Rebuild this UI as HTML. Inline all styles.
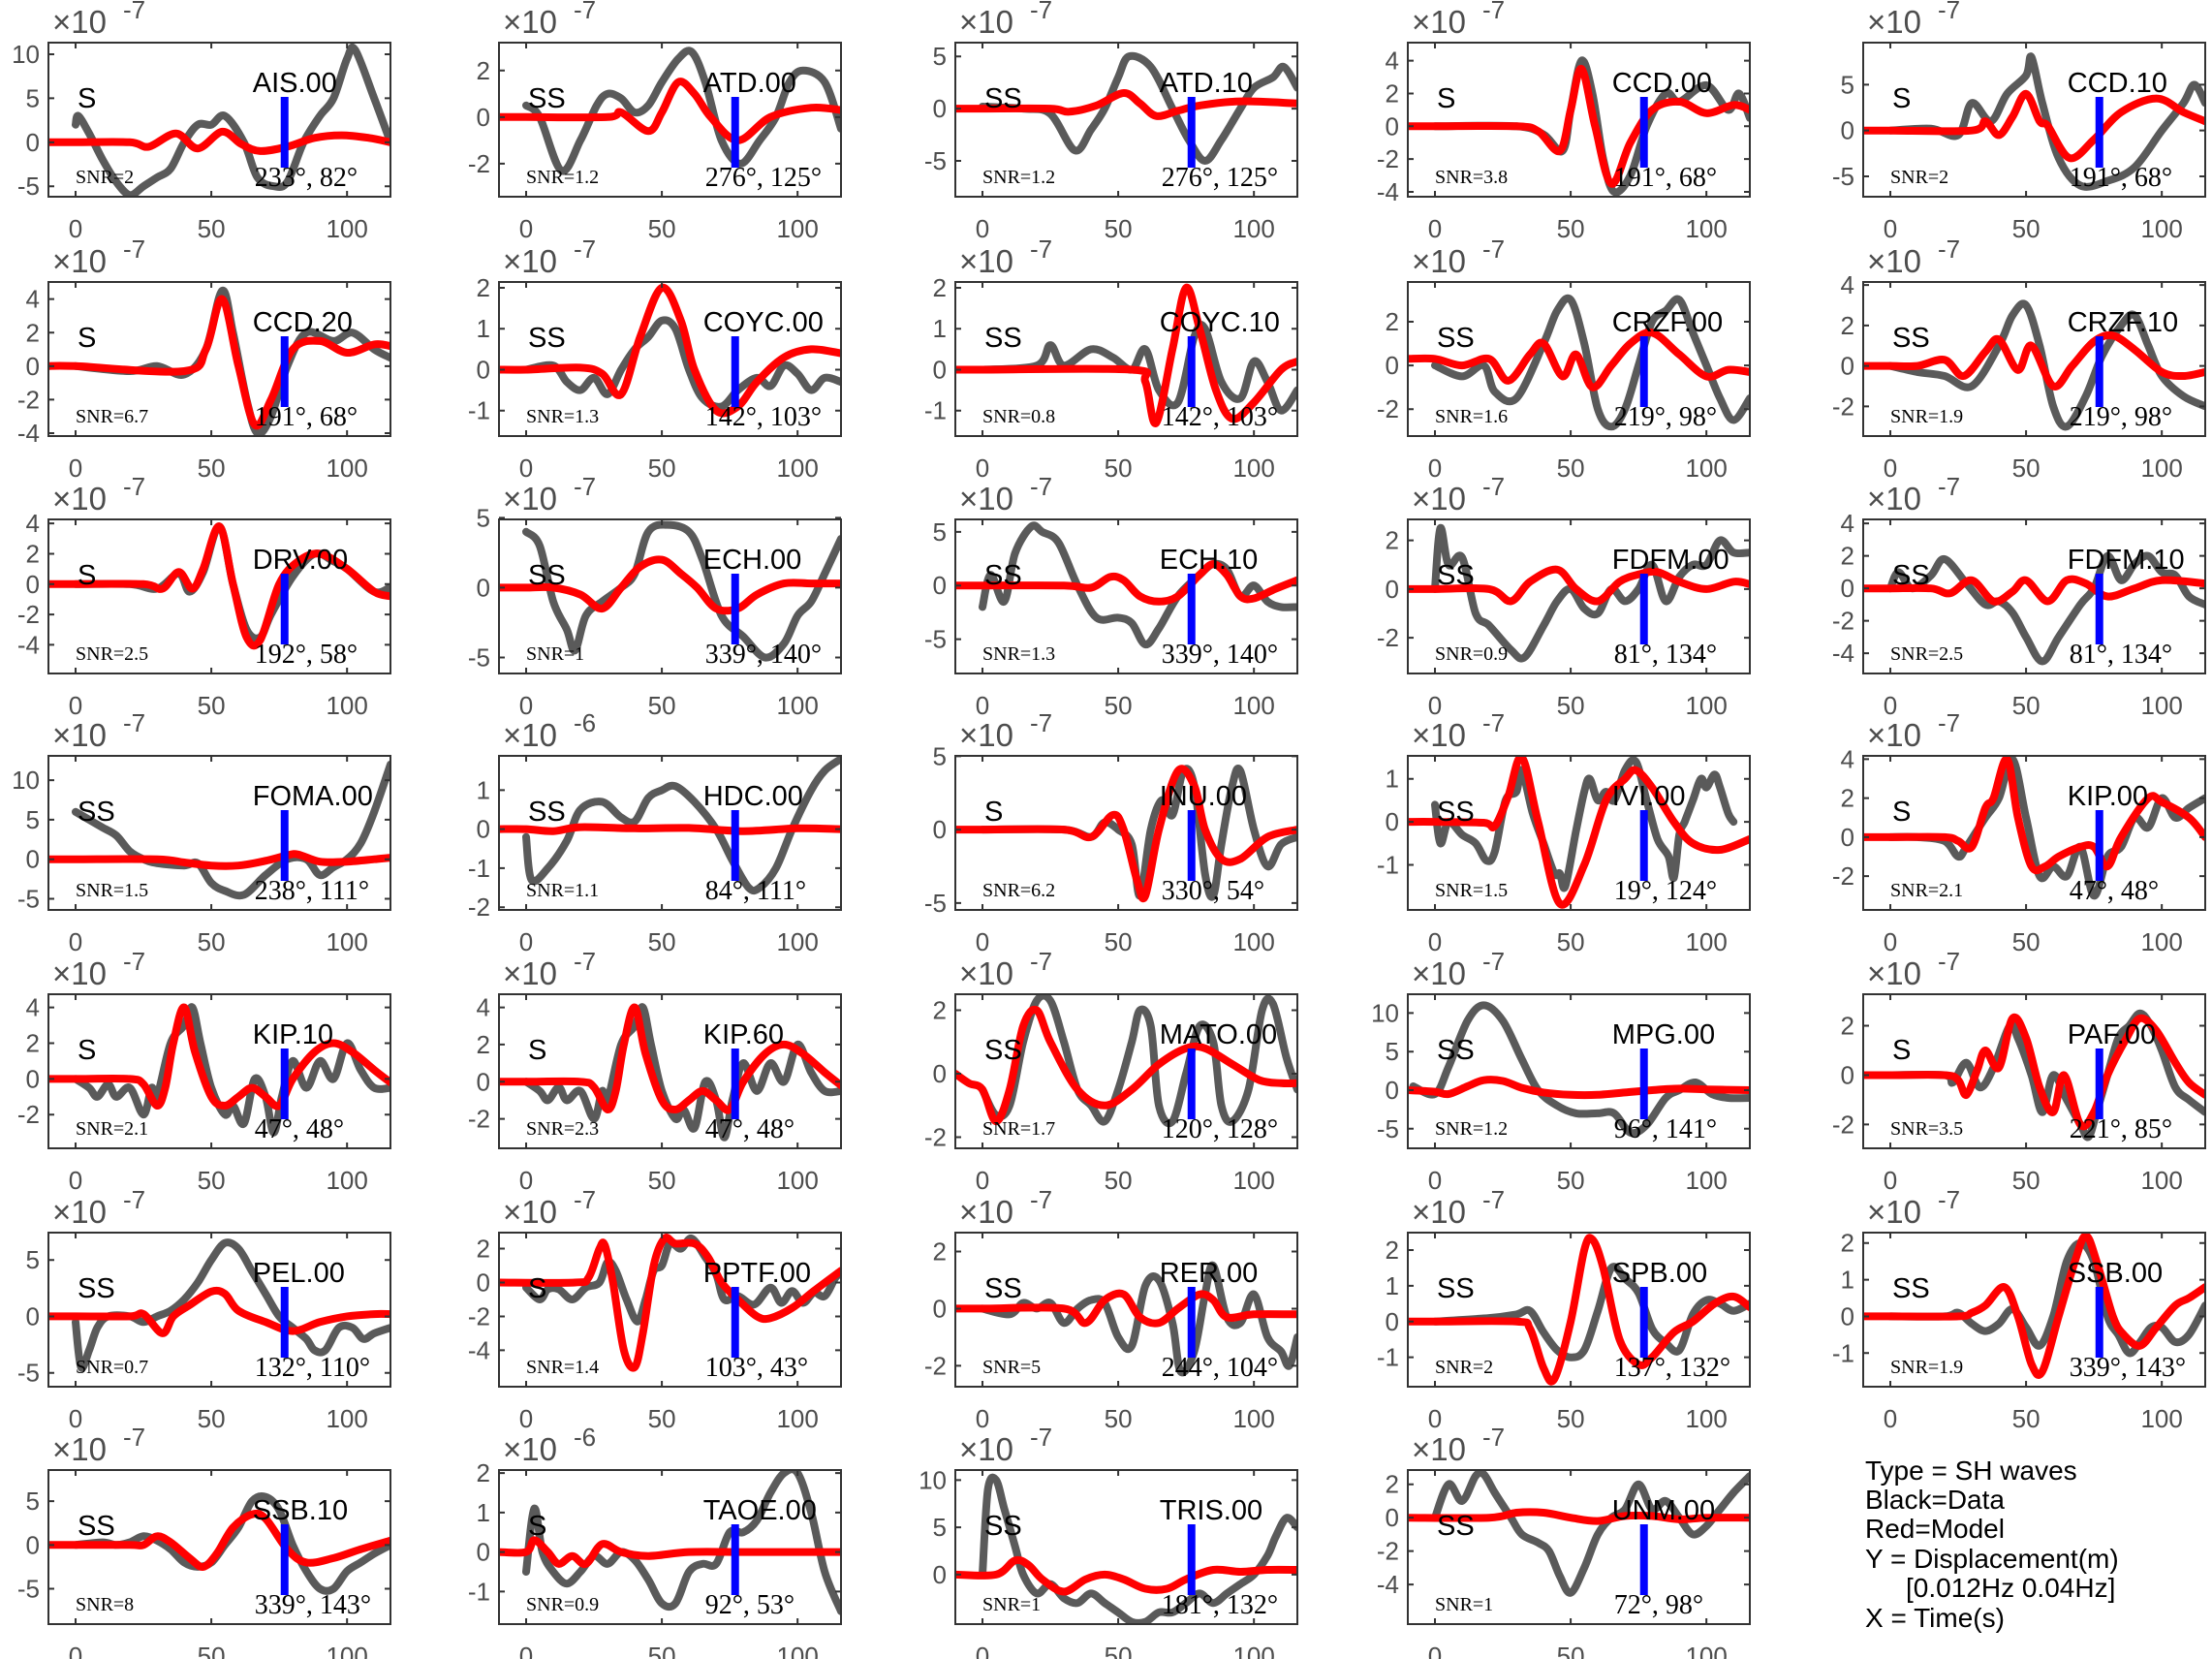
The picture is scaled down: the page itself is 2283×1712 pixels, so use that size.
<!DOCTYPE html>
<html><head><meta charset="utf-8">
<style>
html,body{margin:0;padding:0;background:#fff;}
svg{display:block;}
.tk{font-family:"Liberation Sans",sans-serif;font-size:26px;fill:#4d4d4d;}
.nm{font-family:"Liberation Sans",sans-serif;font-size:29px;fill:#000;}
.sr{font-family:"Liberation Serif",serif;fill:#000;}
.lg{font-family:"Liberation Sans",sans-serif;font-size:28px;fill:#000;}
</style></head>
<body>
<svg id="s" width="2283" height="1712" viewBox="0 0 2283 1712" xmlns="http://www.w3.org/2000/svg">
<text class="lg" x="1925" y="1527">Type = SH waves</text>
<text class="lg" x="1925" y="1557">Black=Data</text>
<text class="lg" x="1925" y="1587">Red=Model</text>
<text class="lg" x="1925" y="1618">Y = Displacement(m)</text>
<text class="lg" x="1967" y="1648">[0.012Hz 0.04Hz]</text>
<text class="lg" x="1925" y="1679">X = Time(s)</text>
</svg>
<script>
const KIPg=[0,0,5,-0.5,8,-1,12,-0.3,15,-1,20,-0.5,25,-2,28,-0.5,30,-1,35,2,40,3,43,4,46,2,50,-0.5,55,-2,58,-1.5,62,-2.5,66,0,70,-1,73,-3,76,-1,80,1,85,-0.5,90,1,95,0,100,2,105,0.5,110,-0.5,116,-0.5];
const KIPr=[0,0,20,0,25,-0.3,30,-1.5,33,-0.5,36,2,40,4,44,1.5,50,-1,55,-1.5,60,-1,65,-0.5,70,-1,75,-1.5,80,0,88,1.5,95,2,102,1.5,110,0.5,116,-0.2];
const P=[
{n:'AIS.00',p:'S',s:'2',a:'233°, 82°',e:7,tk:[[10,38.5],[5,70],[0,101],[-5,132]],
g:[0,2,1,3,5,1,10,-2,15,-4.5,20,-6,25,-5,30,-4,35,-3,40,0,45,2,50,2,55,3,62,0,67,-4,73,-5,78,-4.5,84,0,90,3,95,5,100,9.5,103,10.5,110,5,116,0],
r:[0,0,20,0,27,-0.5,37,1,45,-0.7,54,1.2,61,-0.2,68,-1,78,-0.5,88,0.5,98,0.8,108,0.5,116,0]},
{n:'ATD.00',p:'SS',s:'1.2',a:'276°, 125°',e:7,tk:[[2,50],[0,83],[-2,116]],
g:[0,0.5,5,0,13,-2.3,20,-1,26,0.5,30,1,35,0.8,40,0.2,45,0.5,50,1.5,56,2.5,61,2.8,66,1.5,72,-1,79,-2,86,-1,92,0,97,1.5,102,2,110,1.5,116,-0.5],
r:[0,0,30,0,35,0.2,45,-0.6,50,0.2,56,1.5,62,1,68,0,78,-1,90,0,105,0.4,116,0.3]},
{n:'ATD.10',p:'SS',s:'1.2',a:'276°, 125°',e:7,tk:[[5,40],[0,78],[-5,114]],
g:[0,0.2,15,0,25,-0.5,34,-4,40,-2,45,0,50,3,54,5,62,4,70,0,76,-3,82,-5,88,-3,95,0,100,2,107,3,111,4,116,2],
r:[0,0,25,0,32,-0.3,42,0.3,52,1.5,58,0.5,64,-0.7,72,-0.2,80,0.3,95,0.7,116,0.5]},
{n:'CCD.00',p:'S',s:'3.8',a:'191°, 68°',e:7,tk:[[4,43],[2,65],[0,89],[-2,113],[-4,136]],
g:[0,0,30,0,40,-0.5,47,-1.5,50,1,54,4,58,2,62,-2,66,-4,72,-3,78,0,85,2,90,1.5,100,2.5,108,1,112,2,116,0.5],
r:[0,0,30,0,38,-0.3,46,-1.5,50,1,54,3.5,59,0,65,-3.5,72,-1,80,1,90,1.5,100,0.8,110,1.3,116,1]},
{n:'CCD.10',p:'S',s:'2',a:'191°, 68°',e:7,tk:[[5,60],[0,93],[-5,125]],
g:[0,0,15,0.2,25,-0.5,30,3,37,1,43,4,50,6,52,8,56,3,62,-3,70,-6,80,-5.5,90,-4,100,0,108,3,112,5,116,3],
r:[0,0,30,0,35,1,40,-0.5,45,1.5,50,4,55,1,58,0.5,66,-3,75,-1,85,2,98,3.5,108,2,116,1]},

{n:'CCD.20',p:'S',s:'6.7',a:'191°, 68°',e:7,tk:[[4,212],[2,236],[0,260],[-2,284],[-4,307]],
g:[0,0,20,-0.3,30,0,40,-0.5,48,1,54,4.5,58,2,63,-2,67,-4,72,-3,78,0,85,2,95,1.5,102,2,110,1,116,0.5],
r:[0,0,40,-0.3,48,1,54,4,60,0,66,-3.5,72,-2,80,1,90,1.5,100,0.8,110,1.3,116,1.2]},
{n:'COYC.00',p:'SS',s:'1.3',a:'142°, 103°',e:7,tk:[[2,204],[1,233],[0,262],[-1,291]],
g:[0,0,10,0.1,15,-0.3,20,-0.5,25,-0.2,30,-0.6,35,0,40,0.5,45,0.8,50,1.2,55,1,60,0,65,-0.7,72,-0.9,78,-0.5,85,-0.2,90,-0.4,95,0.1,100,-0.1,105,-0.5,110,-0.2,116,-0.3],
r:[0,0,20,0.05,28,-0.1,35,-0.6,42,0.8,50,2,57,1.2,62,0,70,-1,78,-0.9,85,-0.3,95,0.3,105,0.5,116,0.4]},
{n:'COYC.10',p:'SS',s:'0.8',a:'142°, 103°',e:7,tk:[[2,204],[1,233],[0,262],[-1,291]],
g:[0,0,20,0.1,25,0.6,30,0.1,40,0.5,48,0.3,55,0,60,0.5,65,-0.5,72,-0.8,78,0.8,82,1,88,-0.3,95,-0.7,100,0.2,105,-0.3,110,-1,116,-0.5],
r:[0,0,55,0,60,-0.3,64,-1.3,70,0.5,75,2,80,1,86,-0.5,92,-1.2,100,-0.8,110,0,116,0.2]},
{n:'CRZF.00',p:'SS',s:'1.6',a:'219°, 98°',e:7,tk:[[2,228],[0,259],[-2,290]],
g:[0,0,10,-0.5,18,0,22,-1.2,30,-1.5,40,1,45,2.5,50,3,55,1,60,-2,65,-2.8,70,-2,75,0,80,2,85,2.5,90,3,95,1.5,100,0,105,-1.5,110,-2.5,116,-1.5],
r:[0,0.3,10,0,20,0.3,27,-0.7,35,0.5,40,1,47,-0.5,52,0.5,58,-1,65,0,72,1,80,1.5,90,0.5,100,-0.5,108,-0.2,116,-0.3]},
{n:'CRZF.10',p:'SS',s:'1.9',a:'219°, 98°',e:7,tk:[[4,202],[2,230],[0,259],[-2,288]],
g:[0,0,10,-0.3,20,-0.5,30,-1,40,1,45,2.5,50,3,55,1,60,-2,65,-3,72,-1.5,78,0.5,85,2,90,2.5,95,1,100,-0.5,108,-1.5,116,-2],
r:[0,0,10,0,20,0.3,27,-0.5,35,0.7,40,1.3,47,-0.2,52,1,60,-1,67,0,75,1.2,82,1.5,90,0.8,100,-0.3,108,-0.5,116,-0.3]},

{n:'DRV.00',p:'S',s:'2.5',a:'192°, 58°',e:7,tk:[[4,371],[2,392],[0,414],[-2,436],[-4,457]],
g:[0,0,20,0,30,-0.3,38,0.7,42,-0.5,47,0.8,53,3.8,58,0,63,-3,68,-3.5,72,-2,80,0.5,88,2,95,1.5,100,1,110,-0.5,116,-0.2],
r:[0,0,25,0,32,-0.3,38,0.8,43,-0.3,47,1,53,3.8,58,0,63,-3.5,68,-3.7,75,0,82,1.5,90,2,100,1,110,-0.5,116,-0.8]},
{n:'ECH.00',p:'SS',s:'1',a:'339°, 140°',e:7,tk:[[5,367],[0,418],[-5,466]],
g:[0,4,5,3,10,-1,15,-3,18,-4.5,22,-2,28,-1,35,0,40,1,45,4,52,4.5,60,4,65,2,72,-2,80,-3.5,88,-5,95,-4,100,-2,105,-1,110,1,116,3.5],
r:[0,0,10,0,20,-0.5,28,-1.5,35,0,42,1.5,50,2,57,1,63,0,70,-1.5,78,-1.5,85,-0.5,95,0.3,105,0.3,116,0.3]},
{n:'ECH.10',p:'SS',s:'1.3',a:'339°, 140°',e:7,tk:[[5,377],[0,414],[-5,453]],
g:[0,-2,3,1,8,-1.5,12,3,18,5.5,22,5,28,4,35,0,42,-3,50,-3,55,-3.5,60,-5.5,65,-4,72,-1,80,1,85,2,90,1.5,95,-1,100,0,105,-1.5,110,-2,116,-2],
r:[0,0,30,0,40,-0.2,47,0.8,52,0.5,58,-1,65,-1.5,72,-1,80,1,85,2,90,1,95,-1,100,-1.2,108,-0.3,116,0.5]},
{n:'FDFM.00',p:'SS',s:'0.9',a:'81°, 134°',e:7,tk:[[2,383],[0,418],[-2,452]],
g:[0,0,2,2.5,5,1,10,1.3,15,-1,20,-1.5,28,-2.5,33,-2.8,40,-1.5,45,-0.5,50,0,55,-0.8,60,-1,65,0,70,-0.5,75,0,80,1,85,-0.5,90,0.5,95,1,100,1,105,2,110,1.5,116,1.5],
r:[0,0,20,0,28,-0.5,35,0.3,45,0.8,52,0,60,-0.5,68,0.3,75,0.6,82,0.7,90,0.3,100,0,110,0.3,116,0.2]},
{n:'FDFM.10',p:'SS',s:'2.5',a:'81°, 134°',e:7,tk:[[4,371],[2,394],[0,418],[-2,442],[-4,463]],
g:[0,0,3,1,8,0,15,0.8,20,1.8,28,0.3,35,-1,40,-0.8,45,-1.5,50,-3,56,-4.5,62,-3,70,-1,75,0,80,2,85,0.5,90,1.5,95,2,100,1,105,0.8,110,-0.5,116,-1],
r:[0,0,15,0,22,-0.3,30,0.5,38,-0.8,45,-0.2,50,0.5,58,-0.8,65,0.5,72,0.3,80,-0.5,90,0,100,0.5,116,0.3]},

{n:'FOMA.00',p:'SS',s:'1.5',a:'238°, 111°',e:7,tk:[[10,553],[5,582],[0,610],[-5,637]],
g:[0,6,5,5,10,4,15,3,20,1,25,0,30,-0.5,40,-0.8,45,-0.5,50,-3,55,-4,62,-4.5,70,-2,78,0,85,0,90,-2,95,-1,100,0,105,2,110,6,116,12],
r:[0,0,30,0,40,-0.4,50,-0.8,60,-0.8,70,-0.2,78,0.5,82,0.6,90,-0.3,100,-0.3,110,0,116,0.2]},
{n:'HDC.00',p:'SS',s:'1.1',a:'84°, 111°',e:6,tk:[[1,560],[0,588],[-1,617],[-2,643]],
g:[0,-0.2,2,-1.3,8,-1,15,-0.3,20,0.5,28,0.7,35,0.3,40,0.2,45,0.8,50,1,55,1.1,62,0.7,70,0,76,-0.8,82,-1.5,86,-1.5,92,-1,98,0,105,1,110,1.5,116,1.8],
r:[0,0,10,-0.05,20,0.05,40,0.02,60,0.03,80,-0.05,100,0.02,116,0]},
{n:'INU.00',p:'S',s:'6.2',a:'330°, 54°',e:7,tk:[[5,536],[0,589],[-5,640]],
g:[0,0,30,0,40,-0.5,45,0.5,50,0,55,-1,58,-4.5,62,0,66,2,70,1,74,4,78,3,82,-3,85,-4.5,88,-1,92,3,95,4,100,0,105,-2.5,110,-1,116,-0.5],
r:[0,0,30,0,40,-0.5,48,1,52,0,57,-3.5,60,-4.5,65,0,72,4,78,3,82,0,88,-2,95,-2,105,-0.5,116,0]},
{n:'IVI.00',p:'SS',s:'1.5',a:'19°, 124°',e:7,tk:[[1,552],[0,583],[-1,613]],
g:[0,0.4,2,-0.5,5,0,10,-0.3,15,-0.5,19,-0.9,22,-0.7,26,0.5,30,0.7,32,1.2,36,0.2,40,-0.5,44,-1.2,46,-1.2,48,-1.5,52,-0.2,55,0.7,57,1,60,0.5,63,0.7,66,0.5,70,1.2,74,1.4,78,0.5,82,-0.4,86,-0.8,88,-1.3,90,-0.3,92,0,95,0.5,98,1,100,0.8,103,1.1,105,0.8,108,0.2,110,0],
r:[0,0,18,-0.02,22,-0.1,27,0.6,32,1.5,38,0,46,-1.9,55,-1,63,0.5,70,1,74,1.2,80,0.8,88,0,95,-0.5,105,-0.65,116,-0.4]},
{n:'KIP.00',p:'S',s:'2.1',a:'47°, 48°',e:7,tk:[[4,538],[2,566],[0,594],[-2,621]],
g:[0,0,10,0,20,-0.2,25,-1,28,-0.5,35,1,40,2,45,4,50,1,55,-2,60,-1.5,65,-2,70,-0.5,75,-3,80,-1,85,-0.5,90,1,95,0.5,100,2,105,1,110,1.5,116,2],
r:[0,0,20,0,25,-0.2,30,-0.5,35,1.5,38,2,43,4,47,1,52,-1.5,57,-1.5,62,-1,70,-0.5,75,-0.5,80,-1.5,85,0,95,2,100,1.8,110,1,116,0]},

{n:'KIP.10',p:'S',s:'2.1',a:'47°, 48°',e:7,tk:[[4,714],[2,741],[0,765],[-2,790]],g:KIPg,r:KIPr},
{n:'KIP.60',p:'S',s:'2.3',a:'47°, 48°',e:7,tk:[[4,714],[2,741],[0,767],[-2,793]],g:KIPg,r:KIPr},
{n:'MATO.00',p:'SS',s:'1.7',a:'120°, 128°',e:7,tk:[[2,716],[0,761],[-2,806]],
g:[0,-0.5,5,-1.3,10,-1,15,1,20,2.3,25,2.3,30,1,35,-0.5,40,-1,45,-1.5,50,-0.5,55,1,58,2,62,1.5,65,-1,70,-1.5,75,0,80,1.5,85,1,88,-1,92,-1.5,98,-0.5,103,2,107,2.2,112,0.5,116,-0.5],
r:[-10,0,-5,-0.3,0,-0.5,5,-1.5,10,-0.5,15,1.5,20,2,25,1,35,-0.5,45,-1,55,-0.5,65,0.3,75,0.8,82,0.8,92,0.3,102,-0.2,110,-0.3,116,-0.3]},
{n:'MPG.00',p:'SS',s:'1.2',a:'96°, 141°',e:7,tk:[[10,718],[5,746],[0,774],[-5,800]],
g:[-8,0.5,0,-0.5,5,3,12,9,18,11,25,9,32,4,38,0,45,-2,52,-3,60,-3,66,-3,72,-5.5,78,-4.5,85,-1,90,0,96,1,102,-0.5,108,-1,116,-1],
r:[-10,0,0,-0.2,5,-0.5,12,0.5,18,1.3,25,1.2,32,0.3,40,-0.3,50,-0.6,60,-0.6,70,-0.3,80,0,90,0.2,100,0.1,116,0]},
{n:'PAF.00',p:'S',s:'3.5',a:'221°, 85°',e:7,tk:[[2,727],[0,762],[-2,797]],
g:[0,0,20,0,23,-0.3,28,0.5,33,-0.5,38,0.3,44,2,47,1.5,52,0,56,-1.5,60,0,65,-1,70,-2,73,-2.5,76,-1.5,80,0,84,1.5,88,2,92,2.5,96,2,100,1,105,-0.5,110,-1,116,-1.5],
r:[0,0,20,0,25,-0.2,28,-0.8,32,0.2,35,1,40,0.3,45,2.3,50,1.5,55,-0.5,60,-1.5,64,0,70,-2,75,-1.5,80,0,87,1.5,92,2.3,98,1.8,105,0.5,110,-0.3,116,-0.8]},

{n:'PEL.00',p:'SS',s:'0.7',a:'132°, 110°',e:7,tk:[[5,893],[0,934],[-5,973]],
g:[0,-0.5,2,-4.5,5,-3,8,-1,12,0,20,0,25,-0.5,30,0,35,0.5,40,1.5,45,3,50,5,55,6.5,60,6,65,4,70,2,75,0,80,-1,85,-2,88,-3,92,-3,97,-1,102,-1,106,-2,110,-1.5,116,-1],
r:[0,0,20,0,25,0.2,32,-1.5,36,0,42,1,50,2.2,55,2,60,0.5,70,-0.5,80,-1.3,90,-0.5,100,0,110,0.2,116,0.2]},
{n:'PPTF.00',p:'S',s:'1.4',a:'103°, 43°',e:7,tk:[[2,885],[0,909],[-2,933],[-4,957]],
g:[0,-0.3,5,-1,8,-0.4,12,-0.4,17,-1,22,-0.3,27,0,30,1.2,33,0.7,37,-1,41,-2.3,44,-1,47,0.7,50,1,53,2.3,57,2,61,2.6,66,1.5,70,0.5,73,-1,78,-0.8,84,-1.3,90,-0.3,94,-1.2,98,-0.5,102,-1.2,106,-0.6,110,-0.8,114,0.3,116,0.5],
r:[-10,0,18,0,23,0.3,27,2,29,2.2,32,0,36,-4,40,-5,43,-3,47,1,51,2.6,55,2.3,62,2.3,67,1.5,72,0,78,-1,85,-2,90,-2.1,98,-1.5,106,-0.5,116,0.7]},
{n:'RER.00',p:'SS',s:'5',a:'244°, 104°',e:7,tk:[[2,887],[0,928],[-2,968]],
g:[0,0,10,-0.2,15,0.2,20,0,25,0.2,30,-0.5,35,0,40,0.3,45,0.2,50,-1,55,-1.3,60,0.8,65,1,70,-0.5,73,-2.2,78,-1.5,82,0.5,85,1.5,90,-0.3,95,-0.5,100,0.5,105,-1,110,-1.5,113,-2,116,-1],
r:[0,0,30,0,38,-0.5,45,0.3,52,0.5,58,-0.3,65,-0.5,72,0,80,0.5,85,0.3,90,-0.3,100,-0.2,116,-0.2]},
{n:'SPB.00',p:'SS',s:'2',a:'137°, 132°',e:7,tk:[[2,886],[1,911],[0,936],[-1,962]],
g:[0,0,20,0.1,30,0.2,35,0.3,40,-0.3,45,-0.8,50,-1,55,-0.8,60,0.3,65,1.5,70,1.2,75,0.8,80,-0.2,85,-0.6,90,-0.8,95,0.2,100,0.6,105,0.5,110,0.3,116,0.5],
r:[0,0,30,0,35,-0.2,40,-1.3,44,-1.6,50,0,55,2,58,2.3,62,1.5,68,-0.5,75,-1.2,80,-1,88,-0.3,95,0,103,0.5,110,0.7,116,0.4]},
{n:'SSB.00',p:'SS',s:'1.9',a:'339°, 143°',e:7,tk:[[2,881],[1,908],[0,934],[-1,959]],
g:[0,0,20,0,25,0.1,30,-0.2,35,-0.4,40,-0.2,45,0.2,50,-0.3,55,-0.8,60,0,65,1.5,70,2,75,1.5,80,0,84,-0.5,88,-1,92,-0.7,96,-0.3,100,-0.3,105,-0.7,110,-0.5,116,0.3],
r:[0,0,25,0,30,0.1,35,0.3,42,0.8,47,0,52,-1.3,56,-1.5,62,0,68,1.5,72,2.2,76,1.5,82,0,86,-0.5,92,-0.8,98,-0.3,105,0.3,110,0.5,116,0.8]},

{n:'SSB.10',p:'SS',s:'8',a:'339°, 143°',e:7,tk:[[5,1064],[0,1095],[-5,1126]],
g:[0,0,10,0.3,15,0,20,0.3,25,1,30,0.5,35,-0.5,40,-2,45,-2.5,50,-2,55,0,60,2,65,5,70,5.5,75,4,80,0,85,-3,90,-5,95,-5,100,-3,105,-2,110,-1,116,0],
r:[0,0,20,0,25,0,30,1,35,0.3,42,-1.5,47,-2.5,52,-1,58,2,65,3.5,70,3,78,-0.5,85,-2,95,-1.5,105,-0.5,116,0.5]},
{n:'TAOE.00',p:'S',s:'0.9',a:'92°, 53°',e:6,tk:[[2,1044],[1,1073],[0,1101],[-1,1128]],
g:[0,-0.5,3,1.1,6,0,10,-0.5,15,-0.8,20,-0.5,25,-0.1,30,-0.3,35,0,40,-0.2,45,-0.7,50,-1.3,55,-1.3,60,-0.5,65,-0.3,70,-0.3,75,0.5,80,0.5,85,0.8,90,1.5,95,2,100,2,105,1,110,-0.5,116,-1.5],
r:[-10,0,0,0,3,0.3,8,0,12,-0.3,17,-0.1,22,-0.3,28,0.2,35,0,45,-0.1,60,0,80,0,100,0,116,0]},
{n:'TRIS.00',p:'SS',s:'1',a:'181°, 132°',e:7,tk:[[10,1049],[5,1083],[0,1116]],
g:[0,0,2,9,5,10,8,7,12,3,15,0,20,-2,25,-1,30,-2.5,35,-3,40,-2,45,-3,50,-4,55,-5,60,-5,65,-4,70,-4,75,-3,80,-2,85,-3,90,-2,95,-1,100,0,105,2,108,4,112,6,116,5],
r:[-10,0,5,0,12,1.5,17,1,22,-0.5,30,-1.8,38,-0.5,45,0,52,-0.5,60,-1.5,68,-1.5,75,-0.5,85,0.5,95,0.3,105,0.5,116,0.5]},
{n:'UNM.00',p:'SS',s:'1',a:'72°, 98°',e:7,tk:[[2,1052],[0,1076],[-2,1100],[-4,1123]],
g:[0,0,5,2,10,1,15,2.5,18,2.6,22,1.5,28,0,32,-1,38,-1.5,42,-2,46,-3.5,50,-4.5,55,-3,60,-1,65,0,70,0.5,75,2,80,0.5,85,1,90,0,95,-1,100,-0.5,105,0.5,110,1.5,116,2.5],
r:[-10,0,20,0,30,0.3,40,0.3,50,0,60,-0.2,70,0.1,80,0.1,90,-0.1,100,0,116,0]}
];
const colL=[50,515,986,1453,1923], rowT=[44,291,536,780,1026,1272,1517];
const W=353,H=159,SC=1.456;
const svg=document.getElementById('s');
let out='';
function path(pts){
  if(pts.length<4)return '';
  let d='M'+pts[0][0].toFixed(1)+','+pts[0][1].toFixed(1);
  for(let i=0;i<pts.length-1;i++){
    const p0=pts[i-1]||pts[i],p1=pts[i],p2=pts[i+1],p3=pts[i+2]||pts[i+1];
    const c1=[p1[0]+(p2[0]-p0[0])/6,p1[1]+(p2[1]-p0[1])/6];
    const c2=[p2[0]-(p3[0]-p1[0])/6,p2[1]-(p3[1]-p1[1])/6];
    d+='C'+c1[0].toFixed(1)+','+c1[1].toFixed(1)+' '+c2[0].toFixed(1)+','+c2[1].toFixed(1)+' '+p2[0].toFixed(1)+','+p2[1].toFixed(1);
  }
  return d;
}
P.forEach((q,i)=>{
  const L=colL[i%5],T=rowT[Math.floor(i/5)];
  const X=t=>L+(t+10)*W/126;
  const a=q.tk[0],b=q.tk[q.tk.length-1];
  const ya=a[1]*SC,yb=b[1]*SC;
  const Y=v=>ya+(v-a[0])*(yb-ya)/(b[0]-a[0]);
  out+=`<clipPath id="c${i}"><rect x="${L}" y="${T}" width="${W}" height="${H}"/></clipPath>`;
  let tks='';
  [0,50,100].forEach(t=>{const x=X(t);tks+=`M${x},${T+H}v-6M${x},${T}v6`;
    out+=`<text class="tk" x="${x}" y="${T+H+42}" text-anchor="middle">${t}</text>`;});
  q.tk.forEach(k=>{const y=Y(k[0]);if(y>=T-2&&y<=T+H+2){tks+=`M${L},${y}h6M${L+W},${y}h-6`;}
    out+=`<text class="tk" x="${L-9}" y="${y+9}" text-anchor="end">${k[0]}</text>`;});
  out+=`<text class="tk" x="${L+4}" y="${T-10}" style="font-size:33px">×10</text><text class="tk" x="${L+77}" y="${T-25}" style="font-size:26px">-${q.e}</text>`;
  const toPts=arr=>{const r=[];for(let j=0;j<arr.length;j+=2)r.push([X(arr[j]),Y(arr[j+1])]);return r;};
  let rp=toPts(q.r); if(q.r[0]>-10) rp.unshift([X(-10),Y(q.r[1])]);
  out+=`<g clip-path="url(#c${i})"><path d="${path(toPts(q.g))}" fill="none" stroke="#5a5a5a" stroke-width="8" stroke-linejoin="round" stroke-linecap="round"/>`;
  out+=`<path d="${path(rp)}" fill="none" stroke="#ff0000" stroke-width="8" stroke-linejoin="round" stroke-linecap="round"/></g>`;
  const bx=X(77);
  out+=`<rect x="${bx-4}" y="${T+56}" width="8" height="73" fill="#0000ff"/>`;
  out+=`<rect x="${L}" y="${T}" width="${W}" height="${H}" fill="none" stroke="#333" stroke-width="2"/><path d="${tks}" stroke="#333" stroke-width="2"/>`;
  out+=`<text class="nm" x="${L+30}" y="${T+67}">${q.p}</text>`;
  out+=`<text class="nm" x="${bx-33}" y="${T+51}">${q.n}</text>`;
  out+=`<text class="sr" x="${L+28}" y="${T+145}" style="font-size:20px">SNR=${q.s}</text>`;
  out+=`<text class="sr" x="${bx-31}" y="${T+148}" style="font-size:28px">${q.a}</text>`;
});
svg.insertAdjacentHTML('beforeend',out);
</script>
</body></html>
